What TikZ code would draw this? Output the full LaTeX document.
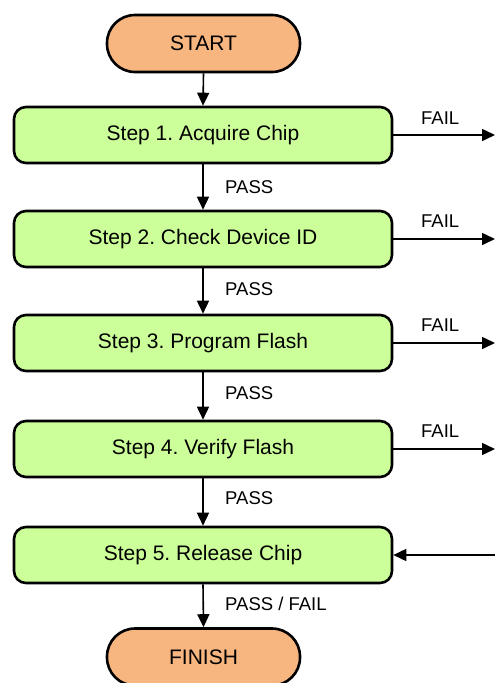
\documentclass[tikz,border=0pt]{standalone}
\usepackage{fontspec}
\setmainfont{Liberation Sans}
\usetikzlibrary{arrows.meta}
\definecolor{termfill}{HTML}{F7B580}
\definecolor{stepfill}{HTML}{CCFF99}
\frenchspacing
\begin{document}
\begin{tikzpicture}[x=1pt,y=-1pt,
  terminal/.style={draw=black, line width=2.6pt, fill=termfill, rounded corners=28pt,
    minimum width=193pt, minimum height=57pt, inner sep=0pt,
    font=\fontsize{21}{24}\selectfont},
  stepbox/.style={draw=black, line width=2.6pt, fill=stepfill, rounded corners=12pt,
    minimum width=378pt, minimum height=56pt, inner sep=0pt,
    font=\fontsize{21}{24}\selectfont},
  flow/.style={line width=1.6pt, -{Triangle[length=13pt,width=12pt]}},
  lbl/.style={font=\fontsize{18.5}{21}\selectfont, inner sep=0pt, anchor=west}]
  \useasboundingbox (0,0) rectangle (495,683);
  \clip (0,0) rectangle (495,683);

  % terminals and steps
  \node[terminal] (start) at (203.5,43.5) {START};
  \node[stepbox] (s1) at (203,135) {Step 1. Acquire Chip};
  \node[stepbox] (s2) at (203,239) {Step 2. Check Device ID};
  \node[stepbox] (s3) at (203,343) {Step 3. Program Flash};
  \node[stepbox] (s4) at (203,449) {Step 4. Verify Flash};
  \node[stepbox] (s5) at (203,555) {Step 5. Release Chip};
  \node[terminal] (finish) at (203.5,657) {FINISH};

  % main flow
  \draw[flow] (start.south) -- (s1.north);
  \draw[flow] (s1.south) -- (s2.north);
  \draw[flow] (s2.south) -- (s3.north);
  \draw[flow] (s3.south) -- (s4.north);
  \draw[flow] (s4.south) -- (s5.north);
  \draw[flow] (s5.south) -- (finish.north);

  \node[lbl] (p1) at (225,187) {PASS};
  \node[lbl] (p2) at (225,289) {PASS};
  \node[lbl] (p3) at (225,393) {PASS};
  \node[lbl] (p4) at (225,498) {PASS};
  \node[lbl] (p5) at (225,604) {PASS / FAIL};

  % failure exits and the return into step 5
  \coordinate (f1) at (495,135);
  \coordinate (f2) at (495,239);
  \coordinate (f3) at (495,343);
  \coordinate (f4) at (495,449);
  \coordinate (r5) at (495,555);
  \draw[flow] (s1.east) -- (f1);
  \draw[flow] (s2.east) -- (f2);
  \draw[flow] (s3.east) -- (f3);
  \draw[flow] (s4.east) -- (f4);
  \draw[flow] (r5) -- (s5.east);

  \node[lbl] (x1) at (421,118) {FAIL};
  \node[lbl] (x2) at (421,221) {FAIL};
  \node[lbl] (x3) at (421,325) {FAIL};
  \node[lbl] (x4) at (421,431) {FAIL};
\end{tikzpicture}
\end{document}
